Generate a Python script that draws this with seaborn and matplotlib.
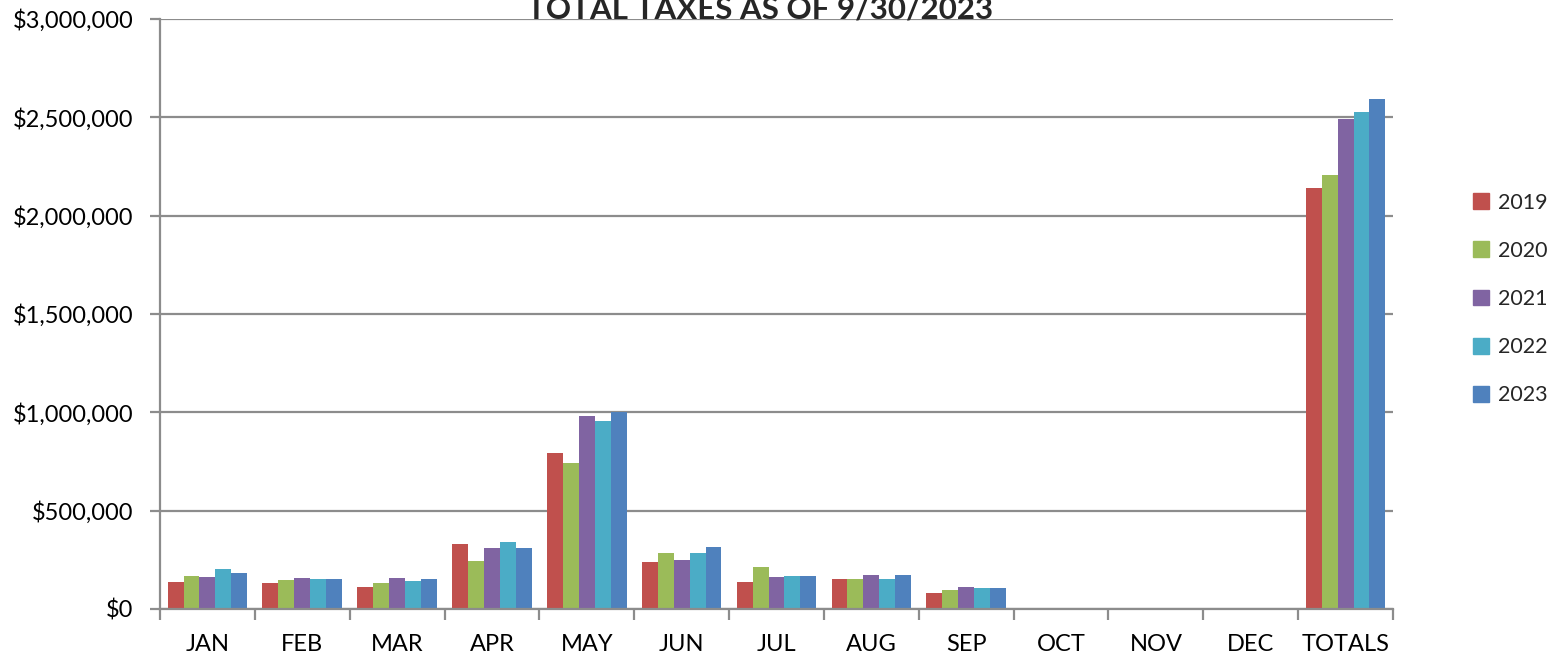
import numpy as np
import pandas as pd
import matplotlib
matplotlib.use("Agg")
import matplotlib.pyplot as plt
import seaborn as sns
from matplotlib.ticker import FuncFormatter, FixedLocator

# Monthly tax collections by year (OCT-DEC not yet collected)
months = ["JAN", "FEB", "MAR", "APR", "MAY", "JUN", "JUL", "AUG", "SEP",
          "OCT", "NOV", "DEC", "TOTALS"]
years = ["2019", "2020", "2021", "2022", "2023"]

v2019 = [139000, 132000, 110000, 331000, 795000, 239000, 137000, 153000, 83000,
         np.nan, np.nan, np.nan, 2142000]
v2020 = [166000, 146000, 134000, 242000, 742000, 285000, 215000, 154000, 97000,
         np.nan, np.nan, np.nan, 2206000]
v2021 = [163000, 158000, 158000, 308000, 983000, 249000, 163000, 173000, 112000,
         np.nan, np.nan, np.nan, 2492000]
v2022 = [205000, 151000, 142000, 339000, 956000, 283000, 169000, 151000, 107000,
         np.nan, np.nan, np.nan, 2528000]
v2023 = [185000, 154000, 154000, 312000, 1002000, 313000, 168000, 171000, 108000,
         np.nan, np.nan, np.nan, 2594000]

colors = ["#C0504D", "#9BBB59", "#8064A2", "#4BACC6", "#4F81BD"]

series = [v2019, v2020, v2021, v2022, v2023]
df = pd.DataFrame(
    [(m, y, v) for y, vals in zip(years, series) for m, v in zip(months, vals)],
    columns=["month", "year", "amount"],
)

sns.set_theme(style="white")
plt.rcParams["font.family"] = ["Lato", "DejaVu Sans"]

fig = plt.figure(figsize=(15.57, 6.61), dpi=100)
ax = fig.add_axes([160 / 1557, 1 - 609 / 661, (1393 - 160) / 1557, (609 - 19) / 661])

sns.barplot(data=df, x="month", y="amount", hue="year", order=months,
            hue_order=years, palette=colors, saturation=1, width=0.84,
            errorbar=None, linewidth=0, ax=ax)

ax.set_ylim(0, 3000000)
ax.set_xlim(-0.5, len(months) - 0.5)
ax.set_yticks(np.arange(0, 3000001, 500000))
ax.yaxis.set_major_formatter(FuncFormatter(lambda v, p: f"${v:,.0f}"))
ax.grid(axis="y", color="#8c8c8c", linewidth=1.6)
ax.set_axisbelow(True)
ax.set_xlabel("")
ax.set_ylabel("")

for side in ("top", "right"):
    ax.spines[side].set_visible(False)
for side in ("left", "bottom"):
    ax.spines[side].set_color("#8c8c8c")
    ax.spines[side].set_linewidth(1.6)

ax.tick_params(axis="y", which="major", left=True, length=7, width=1.6,
               color="#8c8c8c", pad=12, labelsize=17, labelcolor="black")
ax.tick_params(axis="x", which="major", length=0, pad=18, labelsize=17,
               labelcolor="black")
ax.xaxis.set_minor_locator(FixedLocator(np.arange(-0.5, len(months), 1.0)))
ax.tick_params(axis="x", which="minor", bottom=True, length=8, width=1.6,
               color="#8c8c8c")

ax.legend_.remove()
handles = [plt.Rectangle((0, 0), 1, 1, color=c) for c in colors]
fig.legend(handles, years, loc="upper left",
           bbox_to_anchor=(1464 / 1557, 1 - 184 / 661), frameon=False,
           fontsize=15.5, handlelength=0.75, handleheight=0.75,
           handletextpad=0.45, labelspacing=1.31, borderaxespad=0)

fig.text(760 / 1557, 1 - 19 / 661, "TOTAL TAXES AS OF 9/30/2023",
         ha="center", va="baseline", fontsize=22.5, fontweight="bold")

fig.savefig("out.png", dpi=100, facecolor="white")
